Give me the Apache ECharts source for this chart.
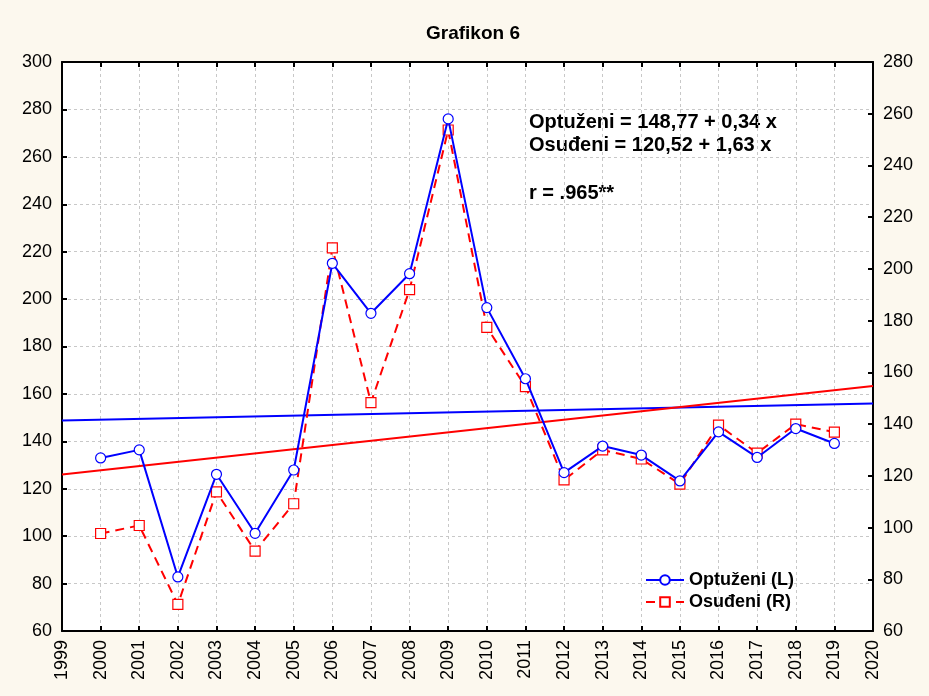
<!DOCTYPE html>
<html><head><meta charset="utf-8">
<script src="https://cdn.jsdelivr.net/npm/echarts@6/dist/echarts.min.js"></script>
<style>html,body{margin:0;padding:0;background:#FCF8EE;}#c{width:929px;height:696px;}</style>
</head><body><div id="c"></div>
<script>
const years = [2000,2001,2002,2003,2004,2005,2006,2007,2008,2009,2010,2011,2012,2013,2014,2015,2016,2017,2018,2019];
const optuzeni = [133,136.4,82.8,126.1,101.2,127.9,215.1,194,210.7,276,196.4,166.4,126.8,138,134.2,123.3,144,133.2,145.4,139.1];
const osudeni = [97.7,100.8,70.3,113.8,90.9,109.2,208.1,148.3,192,253.7,177.4,154.5,118.4,130,126.5,116.8,139.6,128.8,140,136.9];
const regYears = [1999,2020];
const regOptuzeni = [148.77,155.91];
const regOsudeni = [120.52,154.75];
const leftTicks = [60,300,20];
const rightTicks = [60,280,20];
const xRange = [1999,2020,1];

const font = 'Liberation Sans, Arial, sans-serif';
const chart = echarts.init(document.getElementById('c'));
chart.setOption({
  backgroundColor:'#FCF8EE',
  animation:false,
  title:{text:'Grafikon 6',left:468,top:19,textAlign:'center',textStyle:{fontFamily:font,fontSize:19,fontWeight:'bold',color:'#000'}},
  grid:{left:62,right:56,top:62,bottom:65,show:true,backgroundColor:'#fff',borderWidth:0},
  legend:{
    data:[{name:'Optuženi (L)'},{name:'Osuđeni (R)'}],
    orient:'vertical',left:640,top:566,itemWidth:38,itemHeight:12,itemGap:4,
    textStyle:{fontFamily:font,fontSize:18,fontWeight:'bold',color:'#000'}
  },
  xAxis:[{
    type:'value',min:xRange[0],max:xRange[1],interval:xRange[2],position:'bottom',
    axisLine:{lineStyle:{color:'#000',width:2}},
    axisTick:{inside:true,length:5,lineStyle:{color:'#000',width:2}},
    axisLabel:{rotate:90,fontFamily:font,fontSize:18,color:'#000',margin:9,formatter:v=>String(v)},
    splitLine:{show:true,lineStyle:{color:'#c8c8c8',type:[3,3],width:1}}
  },{
    type:'value',min:xRange[0],max:xRange[1],interval:xRange[2],position:'top',
    axisLine:{lineStyle:{color:'#000',width:2}},
    axisTick:{inside:true,length:5,lineStyle:{color:'#000',width:2}},
    axisLabel:{show:false},splitLine:{show:false}
  }],
  yAxis:[{
    type:'value',min:leftTicks[0],max:leftTicks[1],interval:leftTicks[2],position:'left',
    axisLine:{show:true,lineStyle:{color:'#000',width:2}},
    axisTick:{show:true,inside:true,length:5,lineStyle:{color:'#000',width:2}},
    axisLabel:{fontFamily:font,fontSize:18,color:'#000',margin:10},
    splitLine:{show:true,lineStyle:{color:'#c8c8c8',type:[3,3],width:1}}
  },{
    type:'value',min:rightTicks[0],max:rightTicks[1],interval:rightTicks[2],position:'right',
    axisLine:{show:true,lineStyle:{color:'#000',width:2}},
    axisTick:{show:true,inside:true,length:5,lineStyle:{color:'#000',width:2}},
    axisLabel:{fontFamily:font,fontSize:18,color:'#000',margin:10},
    splitLine:{show:false}
  }],
  series:[
    {name:'regL',type:'line',xAxisIndex:0,yAxisIndex:0,data:regYears.map((y,i)=>[y,regOptuzeni[i]]),
     symbol:'none',lineStyle:{color:'#0000FF',width:2},silent:true,z:2},
    {name:'regR',type:'line',xAxisIndex:0,yAxisIndex:1,data:regYears.map((y,i)=>[y,regOsudeni[i]]),
     symbol:'none',lineStyle:{color:'#FF0000',width:2},silent:true,z:2},
    {name:'Osuđeni (R)',type:'line',xAxisIndex:0,yAxisIndex:1,data:years.map((y,i)=>[y,osudeni[i]]),
     symbol:'rect',symbolSize:10,itemStyle:{color:'#fff',borderColor:'#FF0000',borderWidth:1.2},
     lineStyle:{color:'#FF0000',width:2,type:[9,6]},z:3},
    {name:'Optuženi (L)',type:'line',xAxisIndex:0,yAxisIndex:0,data:years.map((y,i)=>[y,optuzeni[i]]),
     symbol:'circle',symbolSize:10,itemStyle:{color:'#fff',borderColor:'#0000FF',borderWidth:1.2},
     lineStyle:{color:'#0000FF',width:2},z:4}
  ],
  graphic:[
    {type:'text',left:529,top:112,style:{text:'Optuženi = 148,77 + 0,34 x',font:'bold 20px '+font,fill:'#000'}},
    {type:'text',left:529,top:135,style:{text:'Osuđeni = 120,52 + 1,63 x',font:'bold 20px '+font,fill:'#000'}},
    {type:'text',left:529,top:183,style:{text:'r = .965**',font:'bold 20px '+font,fill:'#000'}}
  ]
});
</script></body></html>
